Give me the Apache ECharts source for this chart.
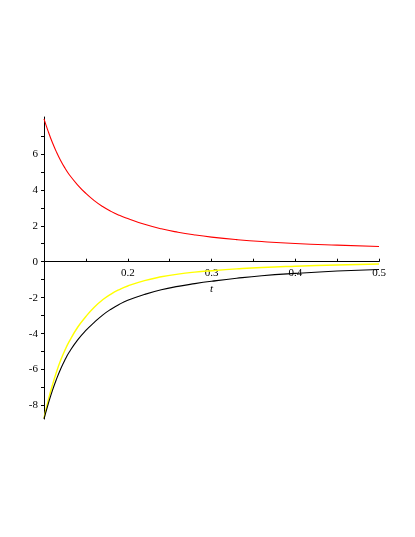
<!DOCTYPE html>
<html lang="en">
<head>
<meta charset="UTF-8">
<title>plot</title>
<script src="https://cdn.jsdelivr.net/npm/echarts@6/dist/echarts.min.js"></script>
<style>
  html, body { margin: 0; padding: 0; background: #fff; }
  #main { width: 415px; height: 537px; }
</style>
</head>
<body>
<div id="main"></div>
<script type="text/javascript">
// sample points along t
var tValues = [0.100, 0.105, 0.110, 0.115, 0.120, 0.125, 0.130, 0.140, 0.150, 0.160, 0.170, 0.180, 0.190, 0.200,
               0.220, 0.240, 0.260, 0.280, 0.300, 0.330, 0.360, 0.400, 0.450, 0.500];
var redValues = [7.95, 7.25, 6.63, 6.09, 5.62, 5.21, 4.85, 4.28, 3.80, 3.40, 3.07, 2.80, 2.58, 2.40,
                 2.08, 1.83, 1.64, 1.49, 1.37, 1.23, 1.12, 1.01, 0.92, 0.85];
var yellowValues = [-8.7, -7.72, -6.87, -6.12, -5.47, -4.92, -4.45, -3.66, -3.05, -2.53, -2.12, -1.80, -1.55, -1.35,
                    -1.05, -0.84, -0.69, -0.58, -0.50, -0.40, -0.32, -0.25, -0.18, -0.13];
var blackValues = [-8.75, -7.92, -7.17, -6.52, -5.95, -5.46, -5.04, -4.36, -3.82, -3.38, -2.97, -2.64, -2.37, -2.15,
                   -1.82, -1.56, -1.37, -1.22, -1.09, -0.92, -0.78, -0.65, -0.52, -0.43];

var xTicks = [0.15, 0.2, 0.25, 0.3, 0.35, 0.4, 0.45, 0.5];
var xLabels = [0.2, 0.3, 0.4, 0.5];
var yTicks = [-8, -7, -6, -5, -4, -3, -2, -1, 0, 1, 2, 3, 4, 5, 6, 7];
var yLabels = [-8, -6, -4, -2, 0, 2, 4, 6];
var yMin = -8.75, yMax = 8.05;

function pairs(vals) {
    return tValues.map(function (t, i) { return [t, vals[i]]; });
}

var gridTop = 117, gridBottom = 118, chartH = 537;
// shift the t axis up so it sits on y = 0, labels included
var plotH = chartH - gridTop - gridBottom;
var zeroShift = -(plotH * (0 - yMin) / (yMax - yMin));

var myChart = echarts.init(document.getElementById('main'));
var labelFont = {
    color: '#000',
    fontFamily: 'Liberation Serif',
    fontSize: 11
};
var option = {
    backgroundColor: '#fff',
    animation: false,
    grid: { left: 44, right: 36, top: gridTop, bottom: gridBottom },
    xAxis: {
        type: 'value',
        min: 0.1,
        max: 0.5,
        offset: zeroShift,
        name: 't',
        nameLocation: 'middle',
        nameGap: 19,
        nameTextStyle: { color: '#000', fontFamily: 'Liberation Serif', fontSize: 11, fontStyle: 'italic' },
        axisLine: { onZero: false, lineStyle: { color: '#000', width: 1 } },
        axisTick: { inside: true, length: 3, customValues: xTicks, lineStyle: { color: '#000' } },
        axisLabel: Object.assign({ customValues: xLabels, margin: 6 }, labelFont),
        splitLine: { show: false }
    },
    yAxis: {
        type: 'value',
        min: yMin,
        max: yMax,
        axisLine: { show: true, onZero: false, lineStyle: { color: '#000', width: 1 } },
        axisTick: { show: true, length: 3, customValues: yTicks, lineStyle: { color: '#000' } },
        axisLabel: Object.assign({ customValues: yLabels, margin: 6 }, labelFont),
        splitLine: { show: false }
    },
    series: [
        {
            name: 'red',
            type: 'line',
            data: pairs(redValues),
            smooth: true,
            showSymbol: false,
            lineStyle: { color: '#ff0000', width: 1.1 }
        },
        {
            name: 'yellow',
            type: 'line',
            data: pairs(yellowValues),
            smooth: true,
            showSymbol: false,
            lineStyle: { color: '#ffff00', width: 1.4 }
        },
        {
            name: 'black',
            type: 'line',
            data: pairs(blackValues),
            smooth: true,
            showSymbol: false,
            lineStyle: { color: '#000000', width: 1.1 }
        }
    ]
};
myChart.setOption(option);
</script>
</body>
</html>
